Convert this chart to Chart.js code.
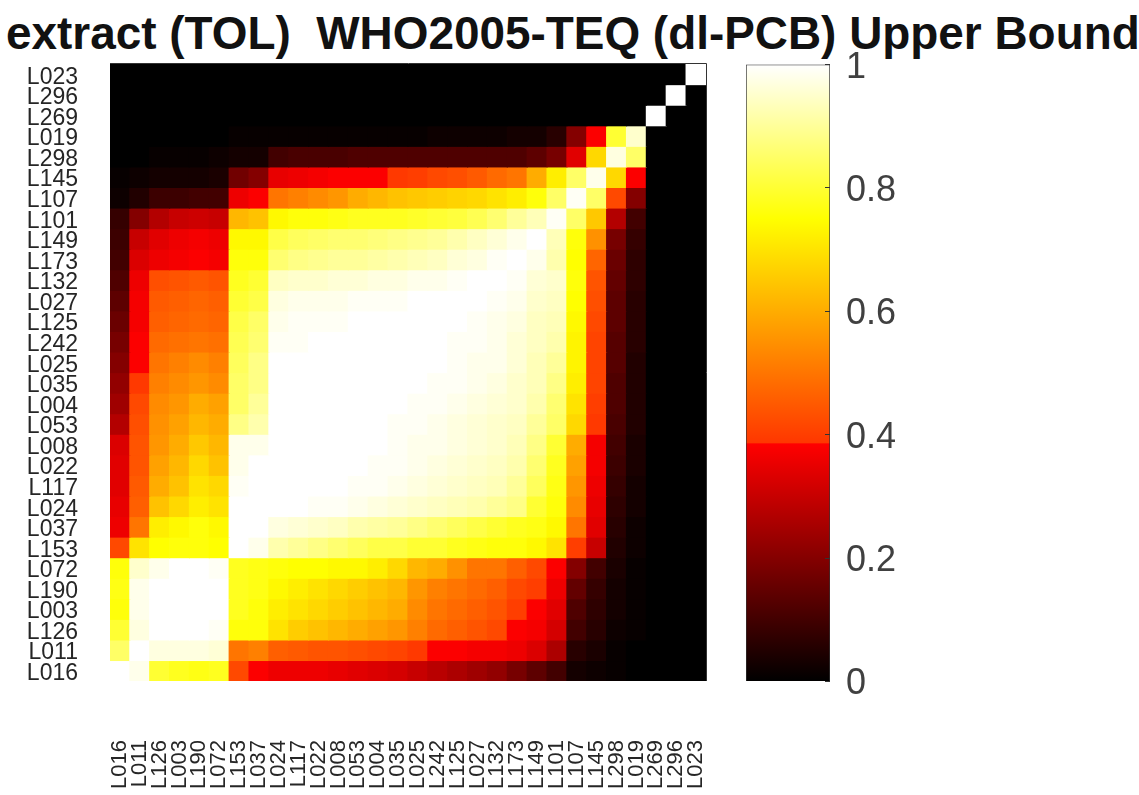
<!DOCTYPE html>
<html>
<head>
<meta charset="utf-8">
<title>WHO2005-TEQ (dl-PCB) Upper Bound</title>
<script src="https://cdn.jsdelivr.net/npm/chart.js@4"></script>
<style>
  html, body { margin: 0; background: #fff; }
  #heatmap, #colorbar, #plotTitle { position: absolute; }
  #heatmap { left: 0; top: 0; }
  #colorbar { left: 740px; top: 22px; }
  #plotTitle {
    left: 6px; top: 8px; margin: 0; white-space: pre; color: #111;
    font: bold 45.9px/50px "Liberation Sans", Arial, sans-serif;
  }
</style>
</head>
<body>
<h1 id="plotTitle">extract (TOL)  WHO2005-TEQ (dl-PCB) Upper Bound</h1>
<canvas id="heatmap" width="1139" height="795"></canvas>
<canvas id="colorbar" width="200" height="702"></canvas>
<script>
// column order, left to right
const xLabels = ['L016','L011','L126','L003','L190','L072','L153','L037','L024','L117','L022','L008','L053','L004','L035',
  'L025','L242','L125','L027','L132','L173','L149','L101','L107','L145','L298','L019','L269','L296','L023'];
// row order, top to bottom
const yLabels = ['L023','L296','L269','L019','L298','L145','L107','L101','L149','L173','L132','L027','L125','L242','L025',
  'L035','L004','L053','L008','L022','L117','L024','L037','L153','L072','L190','L003','L126','L011','L016'];

// values, one list per row, same order as yLabels
const rowValues = [
  [0,0,0,0,0,0,0,0,0,0,0,0,0,0,0,0,0,0,0,0,0,0,0,0,0,0,0,0,0,1],
  [0,0,0,0,0,0,0,0,0,0,0,0,0,0,0,0,0,0,0,0,0,0,0,0,0,0,0,0,1,0],
  [0,0,0,0,0,0,0,0,0,0,0,0,0,0,0,0,0,0,0,0,0,0,0,0,0,0,0,1,0,0],
  [0,0,0,0,0,0,.01,.01,.01,.01,.01,.01,.01,.01,.01,.01,.02,.02,.02,.02,.03,.03,.06,.2,.38,.8,.95,0,0,0],
  [0,0,.01,.01,.01,.02,.03,.03,.1,.11,.11,.11,.12,.12,.12,.12,.12,.12,.12,.12,.12,.14,.18,.34,.68,.97,.85,0,0,0],
  [.01,.02,.03,.03,.03,.04,.17,.2,.35,.36,.37,.38,.38,.38,.39,.4,.42,.43,.45,.48,.5,.6,.72,.85,.98,.68,.38,0,0,0],
  [.02,.05,.09,.09,.1,.1,.36,.38,.5,.52,.54,.56,.6,.62,.64,.65,.66,.67,.68,.7,.72,.76,.85,.99,.85,.42,.2,0,0,0],
  [.08,.2,.27,.3,.31,.3,.62,.64,.74,.76,.76,.77,.78,.78,.78,.79,.8,.81,.83,.86,.9,.93,.99,.85,.65,.27,.1,0,0,0],
  [.09,.3,.34,.36,.37,.36,.74,.74,.82,.84,.85,.86,.86,.87,.88,.89,.9,.92,.94,.96,.98,1,.93,.76,.55,.18,.08,0,0,0],
  [.1,.33,.36,.37,.38,.37,.76,.76,.86,.88,.89,.9,.9,.91,.92,.93,.94,.96,.97,.99,1,.98,.92,.75,.47,.16,.07,0,0,0],
  [.12,.36,.43,.44,.45,.44,.78,.8,.94,.95,.95,.96,.96,.97,.97,.98,.98,.99,1,1,.99,.96,.95,.76,.44,.15,.07,0,0,0],
  [.14,.37,.45,.46,.47,.46,.8,.82,.97,.98,.98,.98,.99,.99,.99,1,1,1,1,.99,.98,.95,.94,.75,.43,.14,.06,0,0,0],
  [.16,.37,.46,.47,.48,.47,.82,.85,.98,.99,.99,.99,1,1,1,1,1,1,.99,.98,.97,.94,.93,.74,.42,.14,.06,0,0,0],
  [.18,.38,.48,.49,.5,.49,.83,.86,.99,.99,1,1,1,1,1,1,1,.99,.99,.98,.96,.94,.92,.73,.41,.13,.06,0,0,0],
  [.2,.38,.5,.52,.54,.52,.84,.88,1,1,1,1,1,1,1,1,1,.99,.98,.98,.96,.93,.9,.73,.41,.13,.05,0,0,0],
  [.22,.39,.52,.54,.56,.54,.85,.88,1,1,1,1,1,1,1,1,.99,.99,.98,.97,.95,.93,.88,.72,.41,.12,.05,0,0,0],
  [.24,.42,.54,.56,.6,.58,.85,.9,1,1,1,1,1,1,1,.99,.99,.98,.97,.96,.95,.92,.86,.7,.4,.12,.05,0,0,0],
  [.27,.43,.55,.58,.62,.6,.88,.92,1,1,1,1,1,1,.99,.99,.98,.97,.96,.95,.94,.9,.85,.68,.39,.11,.05,0,0,0],
  [.33,.44,.56,.6,.65,.62,.98,.98,1,1,1,1,1,1,.99,.98,.98,.97,.96,.95,.93,.88,.8,.6,.37,.1,.04,0,0,0],
  [.34,.44,.58,.62,.68,.64,.98,1,1,1,1,1,1,.99,.99,.98,.97,.96,.95,.94,.92,.86,.78,.58,.37,.09,.04,0,0,0],
  [.34,.45,.6,.64,.7,.68,.99,1,1,1,1,1,.99,.99,.98,.97,.96,.95,.94,.93,.9,.84,.77,.56,.36,.08,.03,0,0,0],
  [.35,.46,.64,.68,.72,.7,1,1,1,1,.99,.99,.98,.97,.96,.95,.94,.93,.92,.9,.88,.8,.76,.54,.35,.07,.03,0,0,0],
  [.36,.5,.72,.74,.76,.74,1,1,.97,.96,.95,.94,.92,.91,.9,.88,.86,.84,.82,.8,.78,.77,.74,.5,.34,.06,.02,0,0,0],
  [.42,.7,.75,.76,.76,.75,1,.98,.92,.9,.88,.86,.84,.82,.82,.8,.8,.78,.77,.76,.76,.74,.7,.4,.3,.05,.02,0,0,0],
  [.76,.95,.98,1,1,.99,.78,.77,.76,.75,.75,.74,.74,.72,.68,.62,.6,.55,.5,.5,.46,.42,.38,.2,.1,.04,.01,0,0,0],
  [.77,.98,1,1,1,1,.78,.77,.74,.72,.7,.68,.66,.64,.62,.56,.52,.5,.48,.46,.42,.4,.36,.15,.08,.03,.01,0,0,0],
  [.76,.98,1,1,1,1,.78,.76,.72,.7,.68,.66,.64,.62,.6,.54,.5,.48,.46,.44,.4,.38,.34,.12,.07,.03,.01,0,0,0],
  [.8,.97,1,1,1,.99,.76,.76,.7,.66,.64,.62,.6,.58,.56,.52,.48,.46,.44,.42,.38,.37,.32,.1,.06,.02,.01,0,0,0],
  [.85,1,.97,.97,.97,.96,.5,.52,.46,.45,.44,.44,.43,.42,.41,.39,.38,.38,.37,.37,.36,.33,.26,.06,.04,.01,0,0,0,0],
  [1,.98,.8,.78,.77,.78,.42,.38,.36,.36,.36,.35,.34,.33,.32,.3,.28,.26,.24,.22,.18,.14,.1,.03,.02,.01,0,0,0,0]
];

const colorbarTicks = [0, 0.2, 0.4, 0.6, 0.8, 1];

// MATLAB "hot" like ramp, with the step the picture has just under 0.4
const colorStops = [
  [0, [0, 0, 0]],
  [0.385, [255, 0, 0]],
  [0.387, [255, 55, 0]],
  [0.75, [255, 255, 0]],
  [1, [255, 255, 255]]
];

function valueColor(v) {
  for (let i = 1; i < colorStops.length; i++) {
    const [v0, c0] = colorStops[i - 1];
    const [v1, c1] = colorStops[i];
    if (v <= v1) {
      const t = (v - v0) / (v1 - v0);
      return 'rgb(' + c0.map((c, k) => Math.round(c + (c1[k] - c) * t)).join(',') + ')';
    }
  }
  return 'rgb(255,255,255)';
}

Chart.defaults.font.family = '"Liberation Sans", Arial, sans-serif';
Chart.defaults.animation = false;

// thin line on top and right of the plot, the white diagonal cell needs it
const plotFrame = {
  id: 'plotFrame',
  afterDraw(chart) {
    const { ctx, chartArea: a } = chart;
    ctx.save();
    ctx.strokeStyle = '#333';
    ctx.lineWidth = 1;
    ctx.beginPath();
    ctx.moveTo(a.left, a.top - 0.5);
    ctx.lineTo(a.right + 0.5, a.top - 0.5);
    ctx.lineTo(a.right + 0.5, a.bottom);
    ctx.stroke();
    ctx.restore();
  }
};

// each row is one stacked dataset of unit height, the cell colour carries the value
new Chart(document.getElementById('heatmap'), {
  type: 'bar',
  data: {
    labels: xLabels,
    datasets: rowValues.map((row, i) => ({
      label: yLabels[i],
      data: row.map(() => 1),
      backgroundColor: row.map(valueColor),
      borderWidth: 0,
      inflateAmount: 0.6,
      barPercentage: 1,
      categoryPercentage: 1
    }))
  },
  plugins: [plotFrame],
  options: {
    responsive: false,
    layout: { padding: { left: 0, right: 433, top: 64, bottom: 0 } },
    plugins: {
      legend: { display: false },
      tooltip: { enabled: false }
    },
    scales: {
      x: {
        stacked: true,
        grid: { display: false, drawTicks: false },
        border: { display: false },
        ticks: {
          autoSkip: false,
          minRotation: 90,
          maxRotation: 90,
          padding: 59,
          color: '#262626',
          font: { size: 22 }
        },
        afterFit(scale) { scale.height = 114; }
      },
      y: {
        stacked: true,
        reverse: true,
        min: 0,
        max: 30,
        grid: { display: false, drawTicks: false },
        border: { display: false },
        afterBuildTicks(scale) {
          scale.ticks = yLabels.map((_, i) => ({ value: i + 0.5 }));
        },
        ticks: {
          autoSkip: false,
          padding: 32,
          labelOffset: 3,
          color: '#262626',
          font: { size: 23 },
          callback: v => yLabels[Math.floor(v)]
        },
        afterFit(scale) { scale.width = 110; }
      }
    }
  }
});

new Chart(document.getElementById('colorbar'), {
  type: 'bar',
  data: {
    labels: ['colorbar'],
    datasets: [{
      data: [1],
      backgroundColor(ctx) {
        const area = ctx.chart.chartArea;
        if (!area) return '#000';
        const g = ctx.chart.ctx.createLinearGradient(0, area.bottom, 0, area.top);
        colorStops.forEach(([v, c]) => g.addColorStop(v, 'rgb(' + c.join(',') + ')'));
        return g;
      },
      borderColor: '#333',
      borderWidth: 1,
      barPercentage: 1,
      categoryPercentage: 1
    }]
  },
  options: {
    responsive: false,
    layout: { padding: { left: 6, right: 0, top: 0, bottom: 0 } },
    plugins: { legend: { display: false }, tooltip: { enabled: false } },
    scales: {
      x: { display: false },
      y: {
        position: 'right',
        min: 0,
        max: 1,
        grid: { drawOnChartArea: false, tickLength: -5, color: '#333', z: 1 },
        border: { display: false },
        afterBuildTicks(scale) {
          scale.ticks = colorbarTicks.map(v => ({ value: v }));
        },
        ticks: {
          padding: 21,
          labelOffset: 3,
          color: '#404040',
          font: { size: 36 },
          callback: v => String(v)
        },
        afterFit(scale) { scale.width = 110; }
      }
    }
  }
});
</script>
</body>
</html>
